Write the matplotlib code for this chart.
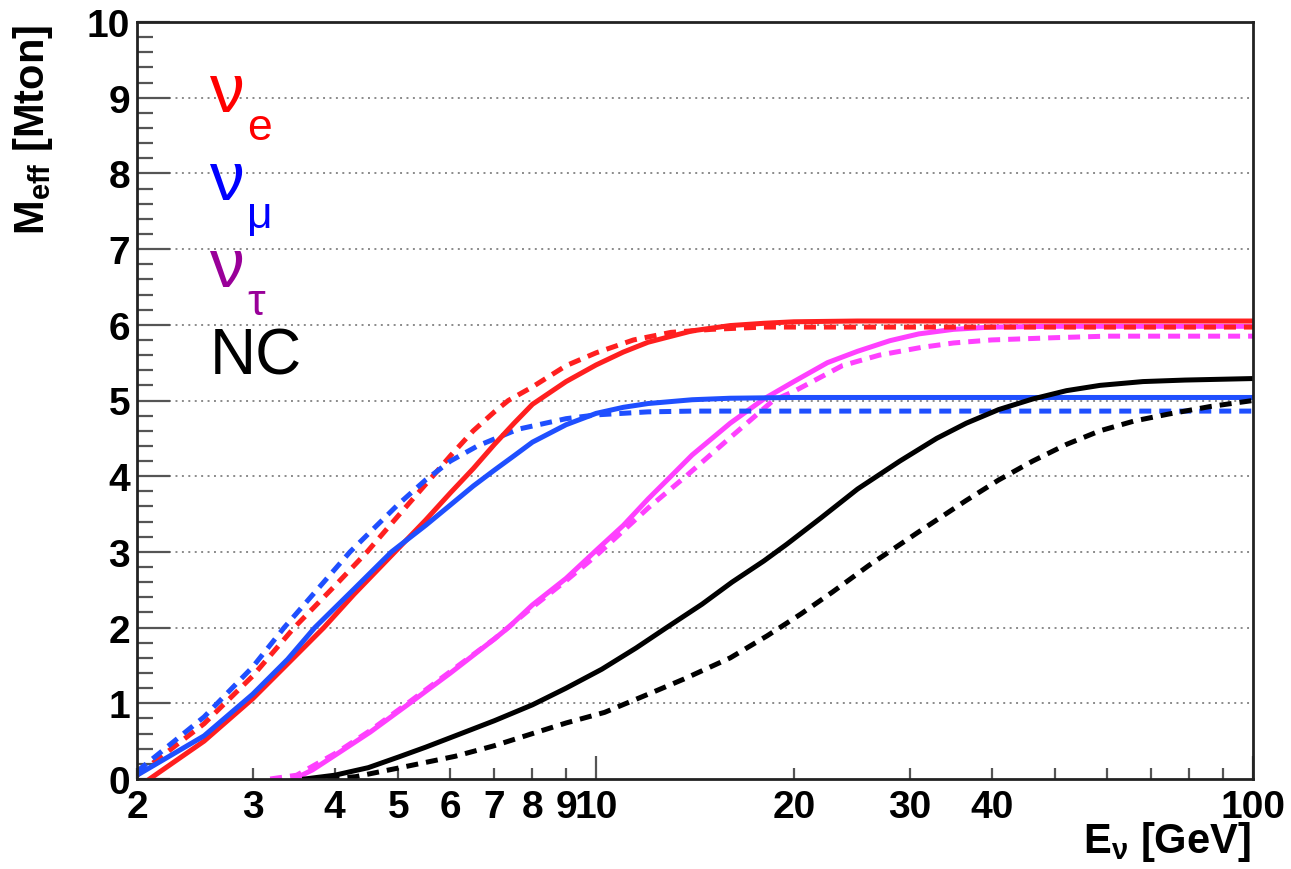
import matplotlib
matplotlib.use("Agg")
import matplotlib.pyplot as plt
from matplotlib.ticker import FixedLocator, FixedFormatter

plt.rcParams['font.family'] = ['Liberation Sans', 'DejaVu Sans']
plt.rcParams['mathtext.fontset'] = 'custom'
plt.rcParams['mathtext.rm'] = 'Liberation Sans:bold'
plt.rcParams['mathtext.it'] = 'Liberation Sans:bold'

# neutrino energy [GeV] and effective mass [Mton]
e_nue_cc = [2.09, 2.53, 3, 3.39, 3.85, 4.28, 4.94, 5.5, 6, 6.5, 7, 7.5, 8, 9, 10, 11, 12, 14, 16, 18, 20, 25, 40, 100]
m_nue_cc = [0.0, 0.5, 1.06, 1.52, 2.0, 2.44, 3.0, 3.42, 3.78, 4.1, 4.42, 4.7, 4.95, 5.25, 5.47, 5.64, 5.77, 5.92, 5.99, 6.02, 6.04, 6.05, 6.05, 6.05]

e_nue_dash = [2, 2.53, 3, 3.47, 4, 4.48, 5, 5.64, 6, 6.5, 7, 7.35, 8, 9, 10, 11.4, 13, 15, 18, 25, 100]
m_nue_dash = [0.05, 0.73, 1.36, 2.0, 2.55, 3.0, 3.48, 4.0, 4.27, 4.6, 4.85, 5.0, 5.18, 5.46, 5.63, 5.8, 5.9, 5.94, 5.97, 5.97, 5.97]

e_numu_cc = [2, 2.53, 3, 3.39, 3.73, 4.28, 4.88, 5.5, 6, 6.5, 7, 7.5, 8, 9, 10, 11, 12, 14, 16, 20, 100]
m_numu_cc = [0.05, 0.57, 1.12, 1.58, 2.0, 2.51, 3.0, 3.35, 3.62, 3.87, 4.08, 4.27, 4.45, 4.68, 4.83, 4.91, 4.96, 5.01, 5.03, 5.04, 5.04]

e_numu_dash = [2, 2.53, 3, 3.35, 4.22, 5, 5.5, 6, 6.6, 7.6, 9, 10, 12, 14, 100]
m_numu_dash = [0.1, 0.82, 1.48, 2.0, 3.0, 3.63, 3.95, 4.2, 4.4, 4.62, 4.76, 4.81, 4.85, 4.86, 4.86]

e_nutau_cc = [3.47, 3.7, 4.03, 4.53, 5.2, 6, 7, 7.35, 8, 9, 10, 11, 12, 13, 14, 16, 18, 20, 22.5, 25, 28, 31, 35, 40, 50, 100]
m_nutau_cc = [0.0, 0.12, 0.33, 0.62, 1.0, 1.4, 1.85, 2.0, 2.3, 2.65, 3.02, 3.35, 3.7, 4.0, 4.28, 4.7, 5.02, 5.25, 5.5, 5.65, 5.79, 5.88, 5.94, 5.97, 5.98, 5.98]

e_nutau_dash = [3.19, 3.5, 4.03, 4.53, 5.2, 6, 7, 8, 9, 10, 12, 13.7, 16, 18.6, 20, 23.7, 27, 31.2, 35, 40, 50, 60, 100]
m_nutau_dash = [0.0, 0.05, 0.35, 0.64, 1.02, 1.42, 1.85, 2.27, 2.62, 2.95, 3.58, 4.0, 4.51, 5.0, 5.12, 5.46, 5.6, 5.7, 5.76, 5.8, 5.83, 5.85, 5.85]

e_nc = [3.6, 4, 4.5, 5, 5.5, 6.1, 7, 8, 9, 10.2, 11.5, 12.8, 14.5, 16.1, 18, 19.5, 22, 25, 29, 33, 36.6, 41, 46.2, 52, 58.5, 68, 78.8, 100]
m_nc = [0.0, 0.05, 0.15, 0.29, 0.42, 0.57, 0.77, 0.98, 1.2, 1.45, 1.73, 2.0, 2.31, 2.6, 2.88, 3.1, 3.45, 3.83, 4.2, 4.5, 4.7, 4.88, 5.02, 5.13, 5.2, 5.25, 5.27, 5.29]

e_nc_dash = [3.9, 4.3, 5.1, 6.1, 7, 8, 9, 10.3, 12, 13.6, 16, 18.2, 20.5, 22.9, 26, 30.8, 36.6, 41, 46.2, 52, 58.5, 66, 74.3, 86, 100]
m_nc_dash = [0.0, 0.03, 0.16, 0.3, 0.44, 0.6, 0.74, 0.88, 1.12, 1.32, 1.6, 1.89, 2.18, 2.47, 2.82, 3.25, 3.68, 3.95, 4.2, 4.42, 4.6, 4.73, 4.82, 4.92, 5.0]

x_major = [10, 100]
x_minor = [2, 3, 4, 5, 6, 7, 8, 9, 20, 30, 40, 50, 60, 70, 80, 90]
x_minor_labels = ['2', '3', '4', '5', '6', '7', '8', '9', '20', '30', '40', '', '', '', '', '']

W, H = 1291, 870
fig = plt.figure(figsize=(W / 100, H / 100), dpi=100)
ax = fig.add_axes([137 / W, 90 / H, 1116 / W, 757 / H])

RED = '#ff1f1f'
BLUE = '#1f4fff'
MAG = '#ff40ff'
lw = 3.6
dash = (0, (2.4, 1.6))

ax.plot(e_nutau_dash, m_nutau_dash, color=MAG, lw=lw, ls=dash)
ax.plot(e_nutau_cc, m_nutau_cc, color=MAG, lw=lw)
ax.plot(e_nue_dash, m_nue_dash, color=RED, lw=lw, ls=dash)
ax.plot(e_numu_dash, m_numu_dash, color=BLUE, lw=lw, ls=dash)
ax.plot(e_nue_cc, m_nue_cc, color=RED, lw=lw)
ax.plot(e_numu_cc, m_numu_cc, color=BLUE, lw=lw)
ax.plot(e_nc, m_nc, color='black', lw=lw)
ax.plot(e_nc_dash, m_nc_dash, color='black', lw=lw, ls=dash)

ax.set_xscale('log')
ax.set_xlim(2, 100)
ax.set_ylim(0, 10)

# dotted horizontal grid at each integer
for yv in range(1, 10):
    ax.axhline(yv, color='#8a8a8a', lw=1.4, ls=(0, (1, 2.3)), zorder=0)

ax.xaxis.set_major_locator(FixedLocator(x_major))
ax.xaxis.set_major_formatter(FixedFormatter(['10', '100']))
ax.xaxis.set_minor_locator(FixedLocator(x_minor))
ax.xaxis.set_minor_formatter(FixedFormatter(x_minor_labels))
ax.set_yticks(range(0, 11))
ax.set_yticks([i * 0.2 for i in range(51)], minor=True)

ax.tick_params(axis='both', which='both', direction='in', top=False, right=False,
               color='#555555', width=1.6)
ax.tick_params(axis='y', which='major', length=24, pad=5, labelsize=28)
ax.tick_params(axis='y', which='minor', length=11.5)
ax.tick_params(axis='x', which='major', length=16.5, pad=7, labelsize=28)
ax.tick_params(axis='x', which='minor', length=8, pad=7, labelsize=28)
for t in ax.get_xticklabels(which='both') + ax.get_yticklabels():
    t.set_fontweight('bold')

for s in ax.spines.values():
    s.set_linewidth(2)
    s.set_color('#222222')

lab = dict(fontsize=30, fontweight='bold')
fig.text(33 / W, 1 - 25 / H, r'M$_{\rm eff}$ [Mton]', rotation=90, ha='center', va='top', **lab)
fig.text(1251 / W, 1 - 842 / H, r'E$_{\rm ν}$ [GeV]', ha='right', va='center', **lab)

# legend labels drawn as coloured text
legend_items = [('ν', 'e', 'red', 112), ('ν', 'μ', 'blue', 200), ('ν', 'τ', '#990099', 287)]
for sym, sub, col, base in legend_items:
    fig.text(210 / W, 1 - base / H, sym, color=col, fontsize=50, va='baseline')
    fig.text(247 / W, 1 - (base + 28) / H, sub, color=col, fontsize=32, va='baseline')
fig.text(210 / W, 1 - 375 / H, 'NC', color='black', fontsize=46, va='baseline')

fig.savefig('out.png', dpi=100)
